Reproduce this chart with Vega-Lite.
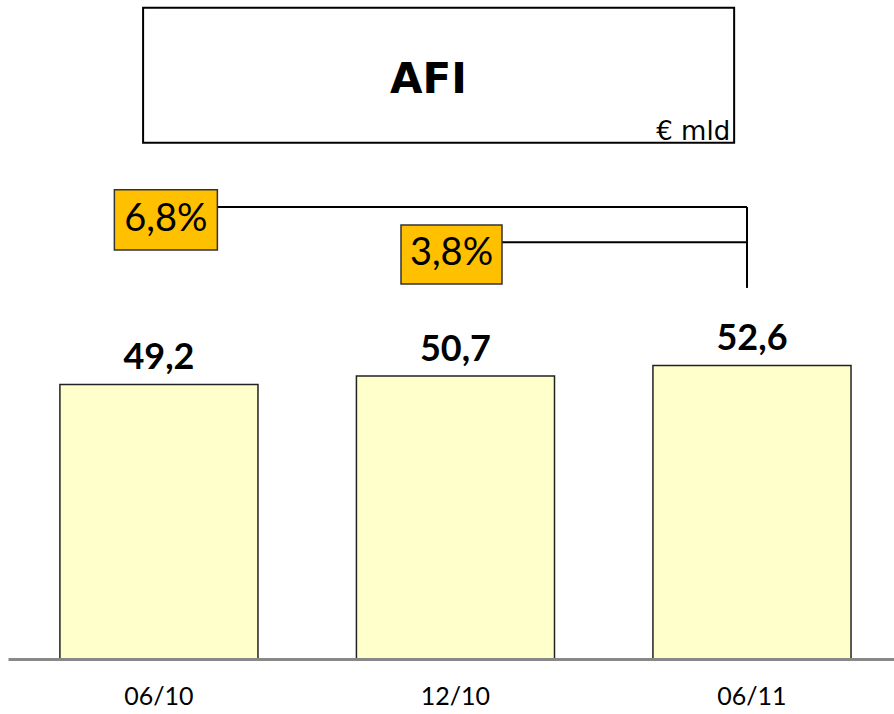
{
  "$schema": "https://vega.github.io/schema/vega-lite/v6.json",
  "width": 886,
  "height": 659,
  "autosize": {"type": "none"},
  "padding": {"left": 8, "top": 0, "right": 0, "bottom": 55},
  "background": "white",
  "config": {"view": {"stroke": null}},
  "datasets": {
    "bars": [
      {"period": "06/10", "value": 49.2, "label": "49,2"},
      {"period": "12/10", "value": 50.7, "label": "50,7"},
      {"period": "06/11", "value": 52.6, "label": "52,6"}
    ],
    "growth": [
      {"from": "06/10", "to": "06/11", "label": "6,8%"},
      {"from": "12/10", "to": "06/11", "label": "3,8%"}
    ],
    "title": [{"title": "AFI", "unit": "€ mld"}]
  },
  "layer": [
    {
      "data": {"name": "title"},
      "mark": {"type": "rect", "fill": "white", "stroke": "black", "strokeWidth": 2},
      "encoding": {
        "x": {"datum": "06/10", "bandPosition": 0.42, "type": "nominal", "scale": {"domain": ["06/10", "12/10", "06/11"], "paddingInner": 0.332, "paddingOuter": 0.16, "align": 0.547}, "axis": {"title": null, "domainColor": "#888888", "domainWidth": 3, "ticks": false, "labelAngle": 0, "labelFont": "Lato", "labelFontSize": 25, "labelColor": "black", "labelPadding": 25}},
        "x2": {"datum": "06/11", "bandPosition": 0.41},
        "y": {"datum": 116.7, "type": "quantitative", "scale": {"domain": [0, 118.1], "nice": false, "zero": false}, "axis": null},
        "y2": {"datum": 92.5}
      }
    },
    {
      "data": {"name": "title"},
      "mark": {"type": "text", "font": "DejaVu Sans", "fontWeight": "bold", "fontSize": 42, "baseline": "middle", "align": "center", "dx": -27},
      "encoding": {
        "x": {"datum": "12/10"},
        "y": {"datum": 103.8},
        "text": {"field": "title"}
      }
    },
    {
      "data": {"name": "title"},
      "mark": {"type": "text", "font": "DejaVu Sans", "fontSize": 26, "baseline": "alphabetic", "align": "right"},
      "encoding": {
        "x": {"datum": "06/11", "bandPosition": 0.39},
        "y": {"datum": 93.0},
        "text": {"field": "unit"}
      }
    },
    {
      "data": {"name": "bars"},
      "mark": {"type": "bar", "fill": "#FFFFCC", "stroke": "#222222", "strokeWidth": 1.5},
      "encoding": {
        "x": {"field": "period", "type": "nominal", "sort": null},
        "y": {"field": "value", "type": "quantitative"},
        "y2": {"datum": 0}
      }
    },
    {
      "data": {"name": "bars"},
      "mark": {"type": "text", "font": "Lato", "fontWeight": "bold", "fontSize": 36, "baseline": "alphabetic", "align": "center", "dy": -15},
      "encoding": {
        "x": {"field": "period", "type": "nominal", "sort": null},
        "y": {"field": "value", "type": "quantitative"},
        "text": {"field": "label"}
      }
    },
    {
      "data": {"name": "growth"},
      "transform": [{"filter": "datum.from === '06/10'"}],
      "mark": {"type": "rule", "color": "black", "strokeWidth": 2},
      "encoding": {
        "x": {"field": "from", "type": "nominal", "bandPosition": 0.535},
        "x2": {"field": "to", "bandPosition": 0.475},
        "y": {"datum": 81.0}
      }
    },
    {
      "data": {"name": "growth"},
      "transform": [{"filter": "datum.from === '12/10'"}],
      "mark": {"type": "rule", "color": "black", "strokeWidth": 2},
      "encoding": {
        "x": {"field": "from", "type": "nominal", "bandPosition": 0.48},
        "x2": {"field": "to", "bandPosition": 0.475},
        "y": {"datum": 74.7}
      }
    },
    {
      "data": {"name": "growth"},
      "transform": [{"filter": "datum.from === '06/10'"}],
      "mark": {"type": "rule", "color": "black", "strokeWidth": 2},
      "encoding": {
        "x": {"field": "to", "type": "nominal", "bandPosition": 0.475},
        "y": {"datum": 81.0},
        "y2": {"datum": 66.5}
      }
    },
    {
      "data": {"name": "growth"},
      "transform": [{"filter": "datum.from === '06/10'"}],
      "mark": {"type": "point", "shape": "M-1,-0.583H1V0.583H-1Z", "size": 10609, "filled": true, "fill": "#FFC000", "stroke": "#333333", "strokeWidth": 1.5, "opacity": 1},
      "encoding": {
        "x": {"field": "from", "type": "nominal", "bandPosition": 0.535},
        "y": {"datum": 78.7}
      }
    },
    {
      "data": {"name": "growth"},
      "transform": [{"filter": "datum.from === '12/10'"}],
      "mark": {"type": "point", "shape": "M-1,-0.583H1V0.583H-1Z", "size": 10201, "filled": true, "fill": "#FFC000", "stroke": "#333333", "strokeWidth": 1.5, "opacity": 1},
      "encoding": {
        "x": {"field": "from", "type": "nominal", "bandPosition": 0.48},
        "y": {"datum": 72.5}
      }
    },
    {
      "data": {"name": "growth"},
      "transform": [{"filter": "datum.from === '06/10'"}],
      "mark": {"type": "text", "font": "Lato", "fontSize": 38, "baseline": "middle", "align": "center"},
      "encoding": {
        "x": {"field": "from", "type": "nominal", "bandPosition": 0.535},
        "y": {"datum": 78.7},
        "text": {"field": "label"}
      }
    },
    {
      "data": {"name": "growth"},
      "transform": [{"filter": "datum.from === '12/10'"}],
      "mark": {"type": "text", "font": "Lato", "fontSize": 38, "baseline": "middle", "align": "center"},
      "encoding": {
        "x": {"field": "from", "type": "nominal", "bandPosition": 0.48},
        "y": {"datum": 72.5},
        "text": {"field": "label"}
      }
    }
  ]
}
